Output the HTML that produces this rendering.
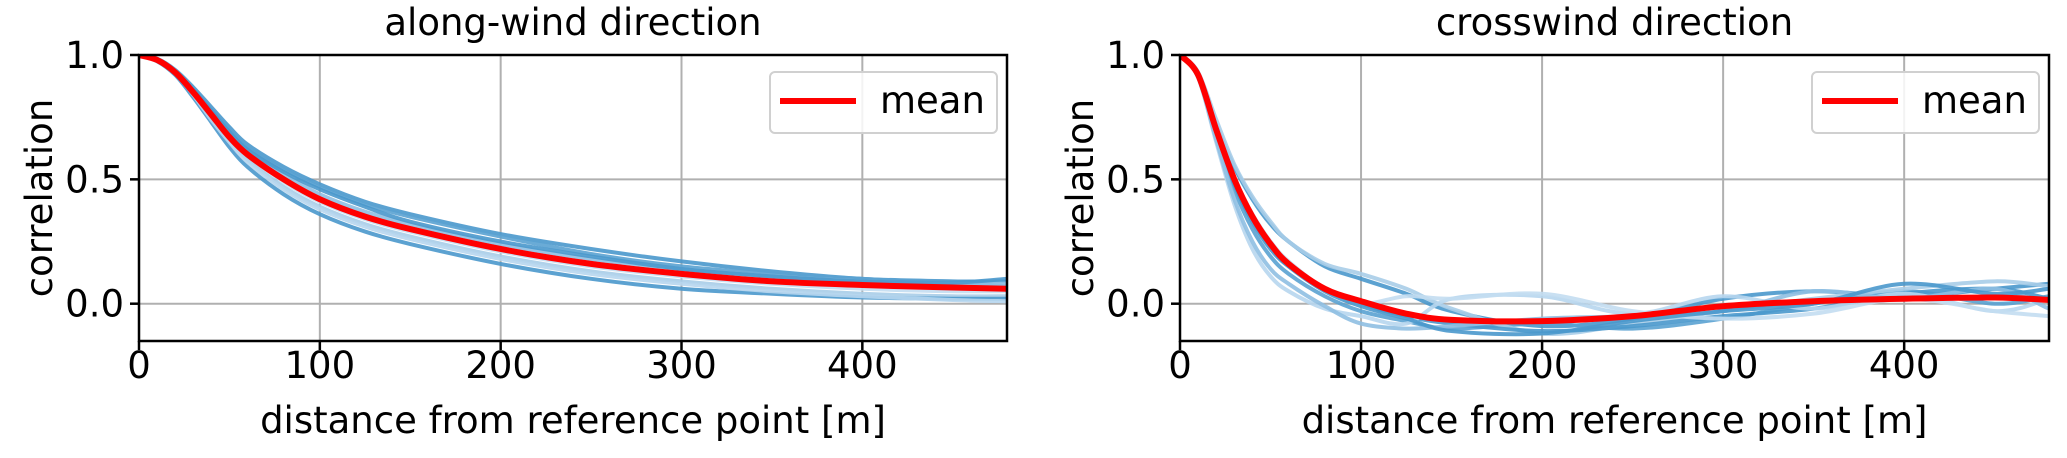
<!DOCTYPE html>
<html><head><meta charset="utf-8"><style>
html,body{margin:0;padding:0;background:#fff;}
svg text{font-family:"DejaVu Sans","Liberation Sans",sans-serif;fill:#000;}
</style></head><body>
<svg id="fig" width="2067" height="453" viewBox="0 0 2067 453" xmlns="http://www.w3.org/2000/svg"></svg>
<script>
const xGrid = [0,10,20,30,40,50,60,80,100,125,150,200,250,300,350,400,450,480];
const alongMean = [1,.98,.93,.85,.76,.67,.6,.5,.42,.35,.3,.22,.16,.12,.09,.075,.065,.06];
const alongSeries = [
 [1,.985,.94,.87,.79,.71,.64,.55,.48,.41,.36,.28,.22,.17,.13,.1,.09,.09],
 [1,.98,.935,.86,.78,.7,.63,.54,.47,.4,.35,.27,.2,.15,.12,.1,.08,.07],
 [1,.98,.93,.85,.75,.66,.58,.47,.39,.32,.27,.19,.13,.09,.06,.04,.03,.03],
 [1,.975,.92,.83,.73,.63,.55,.44,.36,.29,.24,.16,.1,.06,.04,.025,.02,.02],
 [1,.98,.93,.84,.74,.65,.57,.46,.38,.31,.26,.18,.12,.08,.05,.03,.015,.01],
 [1,.98,.935,.855,.77,.68,.61,.52,.44,.37,.32,.24,.18,.14,.11,.09,.08,.08],
 [1,.98,.93,.85,.76,.67,.6,.49,.41,.34,.29,.21,.15,.11,.08,.06,.05,.05],
 [1,.98,.935,.86,.775,.69,.62,.53,.46,.39,.33,.25,.19,.14,.11,.09,.085,.1]
];
const crossMean = [1,.92,.7,.5,.35,.24,.16,.06,.01,-.04,-.065,-.07,-.05,-.01,.01,.02,.025,.015];
const crossSeries = [
 [1,.93,.72,.55,.42,.32,.25,.15,.1,.04,-.03,-.09,-.06,.02,.05,.03,.06,.08],
 [1,.92,.68,.46,.3,.19,.12,.03,-.03,-.07,-.1,-.08,-.1,-.06,.0,.05,.0,.03],
 [1,.93,.74,.56,.43,.33,.25,.16,.12,.06,-.02,-.12,-.08,-.03,.02,.06,.09,.07],
 [1,.92,.69,.48,.33,.22,.15,.06,.0,-.05,-.08,-.11,-.09,-.05,-.02,.04,.06,.02],
 [1,.91,.65,.4,.22,.11,.05,-.02,-.05,-.08,.02,.03,-.04,.03,-.02,.04,-.03,.02],
 [1,.91,.66,.42,.25,.14,.08,-.01,-.08,-.1,-.09,-.06,-.05,-.03,.05,.02,.06,-.02],
 [1,.92,.7,.5,.36,.25,.17,.06,.0,.03,.02,.04,-.03,-.06,-.04,.02,-.03,-.05],
 [1,.92,.7,.49,.34,.23,.15,.05,-.01,-.06,-.11,-.12,-.07,-.03,.0,.08,.04,.06]
];
const xTicks = [0,100,200,300,400];
const yTicks = [0.0,0.5,1.0];
const seriesColors = ["#4a98cc","#5aa2d2","#a9cde8","#4a98cc","#b7d6ee","#8fbfe2","#c3ddf1","#4a98cc"];

const svg = document.getElementById('fig');
const NS = "http://www.w3.org/2000/svg";
function mk(tag, attrs, parent){const e=document.createElementNS(NS,tag);for(const k in attrs)e.setAttribute(k,attrs[k]);(parent||svg).appendChild(e);return e;}

function smoothPath(pts){
  let d = `M${pts[0][0]},${pts[0][1]}`;
  for(let i=0;i<pts.length-1;i++){
    const p0=pts[Math.max(0,i-1)],p1=pts[i],p2=pts[i+1],p3=pts[Math.min(pts.length-1,i+2)];
    const c1x=p1[0]+(p2[0]-p0[0])/6,c1y=p1[1]+(p2[1]-p0[1])/6;
    const c2x=p2[0]-(p3[0]-p1[0])/6,c2y=p2[1]-(p3[1]-p1[1])/6;
    d+=` C${c1x},${c1y} ${c2x},${c2y} ${p2[0]},${p2[1]}`;
  }
  return d;
}

function panel(key, L, R, title, series, mean, legendX){
  const T=55, B=341, xmax=480, ymin=-0.15, ymax=1.0;
  const FS=37;
  const sx = v => L + (v/xmax)*(R-L);
  const sy = v => B - (v-ymin)/(ymax-ymin)*(B-T);
  const g = mk('g',{});
  
  
  const clipId = key+'-clip';
  const cp = mk('clipPath',{id:clipId},g); mk('rect',{x:L,y:T,width:R-L,height:B-T},cp);
  xTicks.forEach(t=>{
    const l=mk('line',{x1:sx(t),x2:sx(t),y1:T,y2:B,stroke:'#b0b0b0','stroke-width':2},g);
    
    
  });
  yTicks.forEach(t=>{
    const l=mk('line',{x1:L,x2:R,y1:sy(t),y2:sy(t),stroke:'#b0b0b0','stroke-width':2},g);
    
    
  });
  const lines = mk('g',{'clip-path':`url(#${clipId})`},g);
  series.forEach((s,i)=>{
    const p=mk('path',{d:smoothPath(s.map((v,j)=>[sx(xGrid[j]),sy(v)])),fill:'none',stroke:seriesColors[i%seriesColors.length],'stroke-width':4,'stroke-opacity':0.9},lines);
    
    
  });
  const m=mk('path',{d:smoothPath(mean.map((v,j)=>[sx(xGrid[j]),sy(v)])),fill:'none',stroke:'#ff0000','stroke-width':6},lines);
  
  
  const fr=mk('rect',{x:L,y:T,width:R-L,height:B-T,fill:'none',stroke:'#000','stroke-width':2.5},g);
  
  
  xTicks.forEach(t=>{
    mk('line',{x1:sx(t),x2:sx(t),y1:B,y2:B+9,stroke:'#000','stroke-width':2.5},g);
    const tx=mk('text',{x:sx(t),y:378,'font-size':FS,'text-anchor':'middle'},g);
    tx.textContent=String(t);
    
    
  });
  yTicks.forEach(t=>{
    mk('line',{x1:L-9,x2:L,y1:sy(t),y2:sy(t),stroke:'#000','stroke-width':2.5},g);
    const tx=mk('text',{x:L-15,y:sy(t)+13,'font-size':FS,'text-anchor':'end'},g);
    tx.textContent=t.toFixed(1);
    
    
  });
  const tt=mk('text',{x:(L+R)/2,y:35,'font-size':FS,'text-anchor':'middle'},g);
  tt.textContent=title;
  
  
  const xl=mk('text',{x:(L+R)/2,y:433,'font-size':FS,'text-anchor':'middle'},g);
  xl.textContent='distance from reference point [m]';
  
  
  const yx=L-87, yy=(T+B)/2;
  const yl=mk('text',{x:yx,y:yy,'font-size':FS,'text-anchor':'middle',transform:`rotate(-90 ${yx} ${yy})`},g);
  yl.textContent='correlation';
  
  
  const lg=mk('g',{},g);
  
  
  mk('rect',{x:legendX,y:72,width:(R-10)-legendX,height:61,rx:5,fill:'#fff','fill-opacity':0.85,stroke:'#d0d0d0','stroke-width':2},lg);
  mk('line',{x1:legendX+10,x2:legendX+86,y1:101,y2:101,stroke:'#ff0000','stroke-width':6},lg);
  const lt=mk('text',{x:legendX+110,y:113,'font-size':FS},lg);
  lt.textContent='mean';
  
  
}
panel('along-wind', 139, 1007, 'along-wind direction', alongSeries, alongMean, 770);
panel('crosswind', 1180, 2049, 'crosswind direction', crossSeries, crossMean, 1812);
</script>
</body></html>
